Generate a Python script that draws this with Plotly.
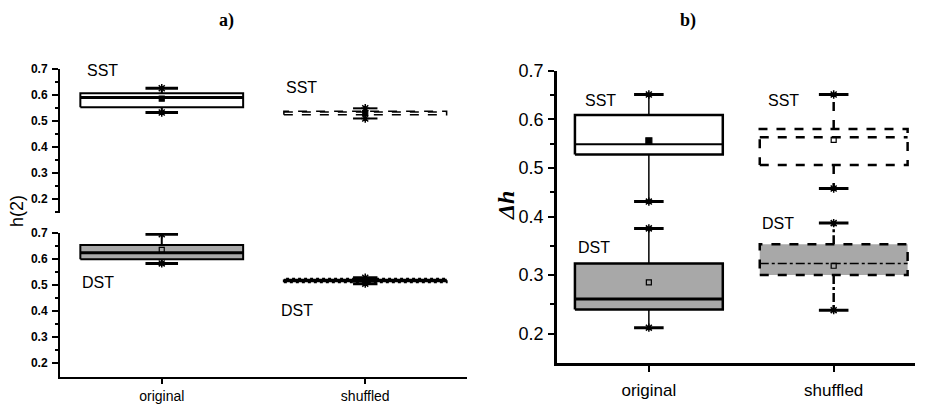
import plotly.graph_objects as go

W, H = 927, 406
categories = ["original", "shuffled"]
cat_pos = [0, 1]

# ---- panel a : h(2) ----
a_sst_q1 = [0.553, 0.524]
a_sst_med = [0.591, 0.535]
a_sst_q3 = [0.607, 0.538]
a_sst_lo = [0.533, 0.510]
a_sst_hi = [0.626, 0.549]
a_sst_mean = [0.586, 0.531]

a_dst_q1 = [0.599, 0.510]
a_dst_med = [0.624, 0.517]
a_dst_q3 = [0.654, 0.524]
a_dst_lo = [0.583, 0.505]
a_dst_hi = [0.695, 0.528]
a_dst_mean = [0.635, 0.517]

# ---- panel b : Δh ----
b_sst_q1 = [0.528, 0.506]
b_sst_med = [0.549, 0.563]
b_sst_q3 = [0.609, 0.580]
b_sst_lo = [0.431, 0.458]
b_sst_hi = [0.651, 0.651]
b_sst_mean = [0.556, 0.558]

b_dst_q1 = [0.241, 0.300]
b_dst_med = [0.259, 0.320]
b_dst_q3 = [0.320, 0.353]
b_dst_lo = [0.210, 0.240]
b_dst_hi = [0.380, 0.389]
b_dst_mean = [0.2875, 0.316]

GRAY = "#A8A8A8"


def px(x):
    return x / W


def py(y):
    return 1 - y / H


fig = go.Figure()


def add_box(xi, q1, med, q3, lo, hi, mean, xa, ya, fill, lw, dash,
            med_w, med_dash, wlw, wdash, cap_w=3, width=0.8, cap=0.08,
            mean_sym="square", mean_size=5):
    half = width / 2
    common = dict(xaxis=xa, yaxis=ya, showlegend=False, hoverinfo="skip")
    fig.add_trace(go.Scatter(
        x=[xi - half, xi + half, xi + half, xi - half, xi - half],
        y=[q1, q1, q3, q3, q1], mode="lines", fill="toself",
        fillcolor=fill, line=dict(color="black", width=lw, dash=dash), **common))
    fig.add_trace(go.Scatter(
        x=[xi, xi, None, xi, xi], y=[q3, hi, None, q1, lo], mode="lines",
        line=dict(color="black", width=wlw, dash=wdash), **common))
    fig.add_trace(go.Scatter(
        x=[xi - cap, xi + cap, None, xi - cap, xi + cap],
        y=[hi, hi, None, lo, lo], mode="lines",
        line=dict(color="black", width=cap_w), **common))
    fig.add_trace(go.Scatter(
        x=[xi - half, xi + half], y=[med, med], mode="lines",
        line=dict(color="black", width=med_w, dash=med_dash), **common))
    fig.add_trace(go.Scatter(
        x=[xi, xi], y=[hi, lo], mode="markers",
        marker=dict(symbol="asterisk-open", size=7, color="black",
                    line=dict(color="black", width=1.5)), **common))
    fig.add_trace(go.Scatter(
        x=[xi], y=[mean], mode="markers",
        marker=dict(symbol=mean_sym, size=mean_size, color="black",
                    line=dict(color="black", width=1.2)), **common))


# panel a, SST (top layer)
add_box(cat_pos[0], a_sst_q1[0], a_sst_med[0], a_sst_q3[0], a_sst_lo[0], a_sst_hi[0],
        a_sst_mean[0], "x", "y", "white", 2, "solid", 3, "solid", 2, "solid")
add_box(cat_pos[1], a_sst_q1[1], a_sst_med[1], a_sst_q3[1], a_sst_lo[1], a_sst_hi[1],
        a_sst_mean[1], "x", "y", "white", 1.5, "dash", 1.5, "dash", 2, "dash",
        cap_w=2, cap=0.06)
# panel a, DST (bottom layer)
add_box(cat_pos[0], a_dst_q1[0], a_dst_med[0], a_dst_q3[0], a_dst_lo[0], a_dst_hi[0],
        a_dst_mean[0], "x", "y2", GRAY, 2, "solid", 3, "solid", 2, "solid",
        mean_sym="square-open")
add_box(cat_pos[1], a_dst_q1[1], a_dst_med[1], a_dst_q3[1], a_dst_lo[1], a_dst_hi[1],
        a_dst_mean[1], "x", "y2", "black", 2, "dot", 2, "dot", 3, "dot",
        cap_w=3, cap=0.06)
# panel b, SST (upper segment)
add_box(cat_pos[0], b_sst_q1[0], b_sst_med[0], b_sst_q3[0], b_sst_lo[0], b_sst_hi[0],
        b_sst_mean[0], "x2", "y3", "white", 2.5, "solid", 2, "solid", 1.5, "solid",
        mean_sym="square", mean_size=6)
add_box(cat_pos[1], b_sst_q1[1], b_sst_med[1], b_sst_q3[1], b_sst_lo[1], b_sst_hi[1],
        b_sst_mean[1], "x2", "y3", "white", 2.5, "dash", 2.5, "dash", 2.5, "dash",
        mean_sym="square-open")
# panel b, DST (lower segment)
add_box(cat_pos[0], b_dst_q1[0], b_dst_med[0], b_dst_q3[0], b_dst_lo[0], b_dst_hi[0],
        b_dst_mean[0], "x2", "y4", GRAY, 2.5, "solid", 3, "solid", 1.5, "solid",
        mean_sym="square-open")
add_box(cat_pos[1], b_dst_q1[1], b_dst_med[1], b_dst_q3[1], b_dst_lo[1], b_dst_hi[1],
        b_dst_mean[1], "x2", "y4", GRAY, 2.5, "dash", 1.5, "dashdot", 2.5, "dashdot",
        mean_sym="square-open")

tickfont_a = dict(family="Liberation Sans, Arial", size=12, color="black", weight="bold")
tickfont_b = dict(family="Liberation Sans, Arial", size=18, color="black")
yax_common = dict(showline=True, linecolor="black", ticks="outside", tickcolor="black",
                  showgrid=False, zeroline=False, mirror=False, automargin=False)

fig.update_layout(
    width=W, height=H, margin=dict(l=0, r=0, t=0, b=0, pad=0), autosize=False,
    paper_bgcolor="white", plot_bgcolor="white",
    xaxis=dict(domain=[px(60), px(467)], range=[-0.5, 1.5], anchor="y2",
               tickvals=cat_pos, ticktext=categories, showline=True, linecolor="black",
               linewidth=2, ticks="outside", ticklen=5, tickwidth=2, tickcolor="black",
               showgrid=False, zeroline=False, automargin=False, ticklabelstandoff=0,
               tickfont=dict(family="Liberation Sans, Arial", size=14, color="black")),
    yaxis=dict(domain=[py(213), py(69)], range=[0.147, 0.7], anchor="x",
               tickvals=[0.2, 0.3, 0.4, 0.5, 0.6, 0.7], tickformat=".1f",
               linewidth=2, ticklen=6, tickwidth=2, tickfont=tickfont_a,
               ticklabelstandoff=2,
               minor=dict(tickvals=[0.15, 0.25, 0.35, 0.45, 0.55, 0.65], ticks="outside",
                          ticklen=3, tickwidth=2, tickcolor="black"),
               **yax_common),
    yaxis2=dict(domain=[py(376.7), py(233)], range=[0.147, 0.7], anchor="x",
                tickvals=[0.2, 0.3, 0.4, 0.5, 0.6, 0.7], tickformat=".1f",
                linewidth=2, ticklen=6, tickwidth=2, tickfont=tickfont_a,
                ticklabelstandoff=2,
                minor=dict(tickvals=[0.25, 0.35, 0.45, 0.55, 0.65], ticks="outside",
                           ticklen=3, tickwidth=2, tickcolor="black"),
                **yax_common),
    xaxis2=dict(domain=[px(557), px(915)], range=[-0.497, 1.44], anchor="y4",
                tickvals=cat_pos, ticktext=categories, showline=True, linecolor="black",
                linewidth=2.5, ticks="outside", ticklen=7, tickwidth=2, tickcolor="black",
                showgrid=False, zeroline=False, automargin=False, ticklabelstandoff=3,
                tickfont=dict(family="Liberation Sans, Arial", size=17, color="black")),
    yaxis3=dict(domain=[py(216.7), py(70.7)], range=[0.4, 0.7], anchor="x2",
                tickvals=[0.4, 0.5, 0.6, 0.7], tickformat=".1f",
                linewidth=2.5, ticklen=6, tickwidth=2, tickfont=tickfont_b,
                ticklabelstandoff=1,
                minor=dict(tickvals=[0.45, 0.55, 0.65], ticks="outside",
                           ticklen=4, tickwidth=2, tickcolor="black"),
                **yax_common),
    yaxis4=dict(domain=[py(362.7), py(216.7)], range=[0.15, 0.4], anchor="x2",
                tickvals=[0.2, 0.3], tickformat=".1f",
                linewidth=2.5, ticklen=6, tickwidth=2, tickfont=tickfont_b,
                ticklabelstandoff=1,
                minor=dict(tickvals=[0.25, 0.35], ticks="outside",
                           ticklen=4, tickwidth=2, tickcolor="black"),
                **yax_common),
)

sans = "Liberation Sans, Arial"
serif = "Liberation Serif, Times New Roman"


def note(text, x, y, size, family=sans, angle=0):
    fig.add_annotation(text=text, x=px(x), y=py(y), xref="paper", yref="paper",
                       showarrow=False, xanchor="center", yanchor="middle",
                       textangle=angle, font=dict(family=family, size=size, color="black"))


note("<b>a)</b>", 226, 21, 18, serif)
note("<b>b)</b>", 688, 21, 18, serif)
note("h(2)", 17, 211, 18, sans, -90)
note("<i><b>Δh</b></i>", 506, 206, 24, serif, -90)

note("SST", 102.5, 70, 16)
note("SST", 301.5, 88, 16)
note("DST", 98, 282, 16)
note("DST", 297, 310, 16)

note("SST", 600.5, 101, 16)
note("SST", 783, 101, 16)
note("DST", 594, 247, 16)
note("DST", 778, 223, 16)

fig.write_html(
    "out.html", config={"displayModeBar": False},
    post_script="document.body.style.margin='0px';document.body.style.overflow='hidden';",
)
